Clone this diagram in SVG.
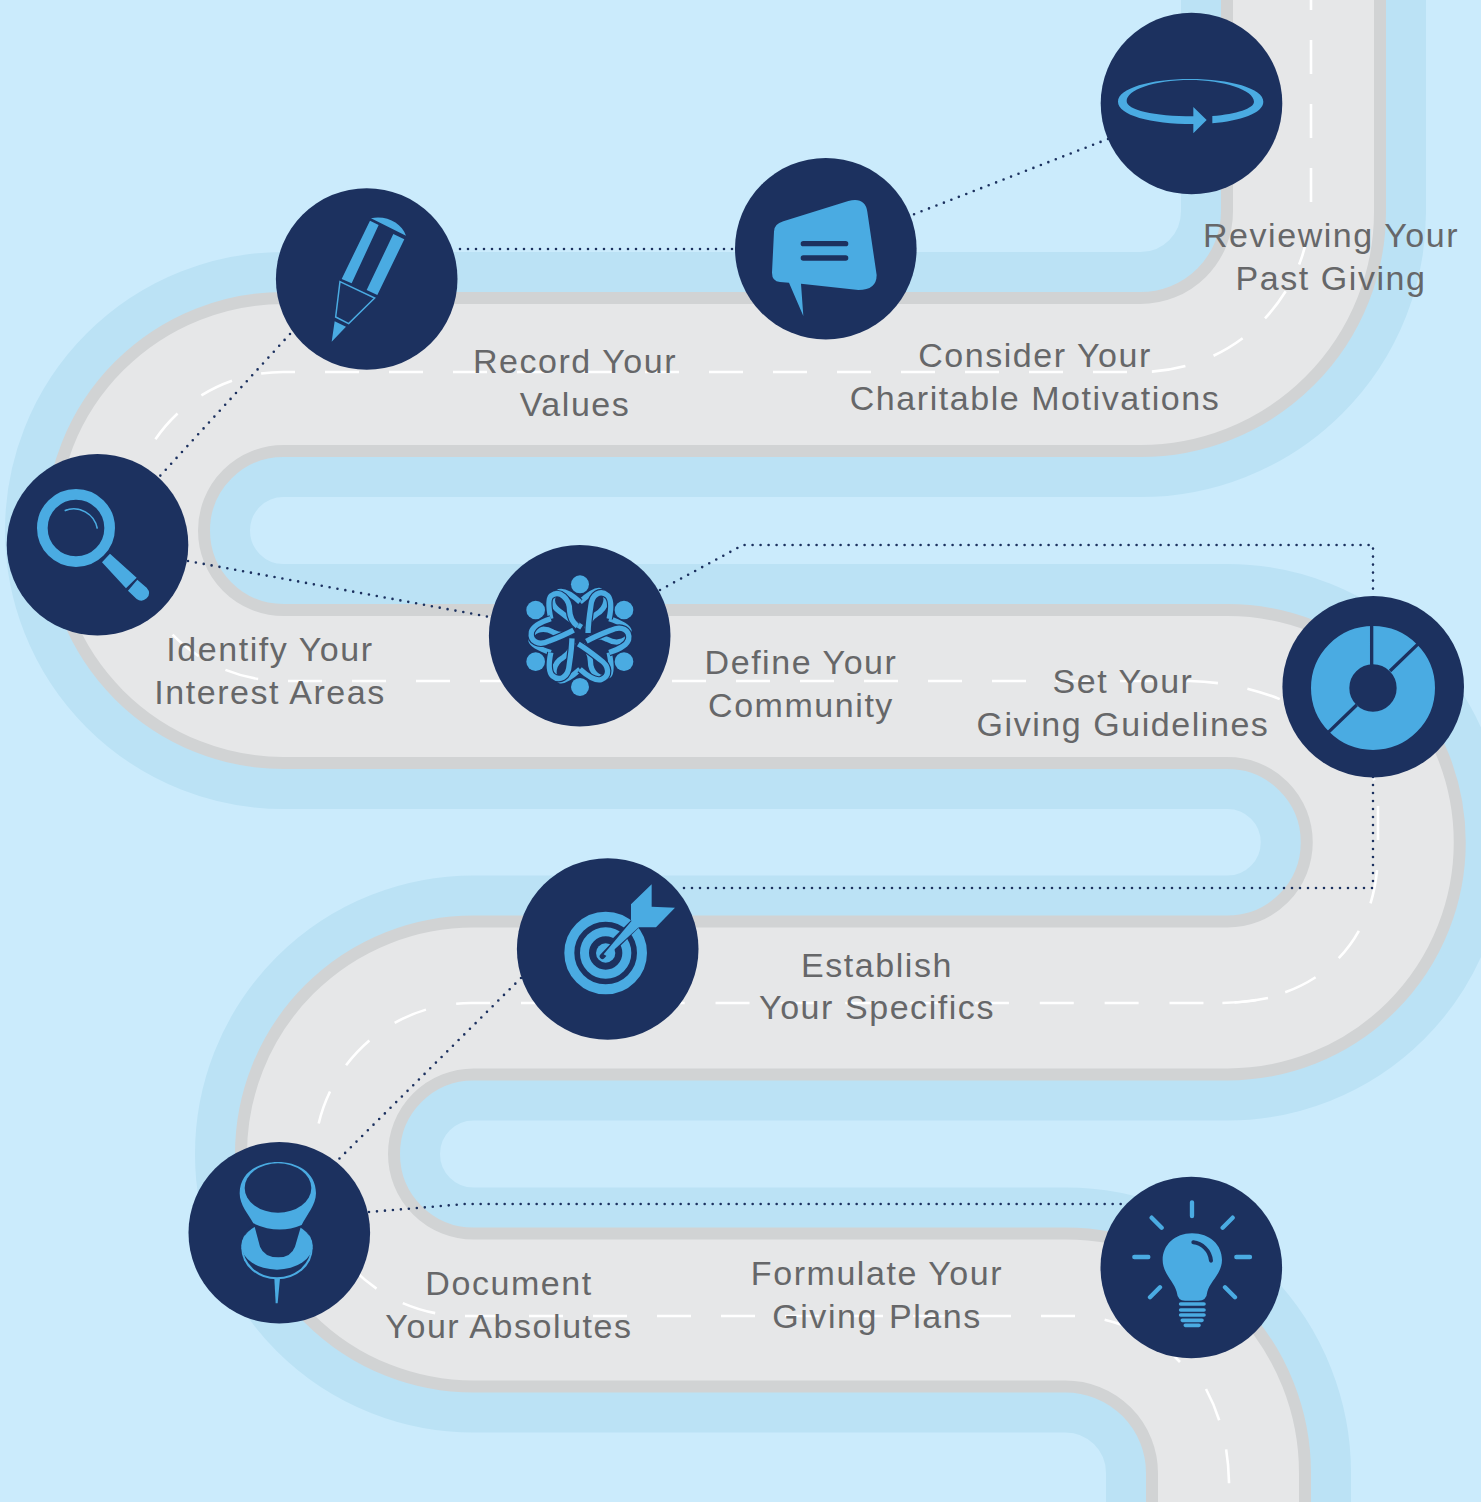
<svg xmlns="http://www.w3.org/2000/svg" xmlns:xlink="http://www.w3.org/1999/xlink" width="1481" height="1502" viewBox="0 0 1481 1502">
<style>
.rd{fill:none;stroke-linejoin:round}
.dash{fill:none;stroke:#fff;stroke-width:2.6;stroke-dasharray:34 30}
.disc{fill:#1c315f}
.l{fill:#4aabe2}
.ls{fill:none;stroke:#4aabe2;stroke-linecap:round}
.d{fill:#1c315f}
.ds{fill:none;stroke:#1c315f;stroke-linecap:round}
.dot{fill:none;stroke:#1c315f;stroke-width:2.6;stroke-linecap:round;stroke-dasharray:0 8}
text{font-family:"Liberation Sans",Arial,sans-serif;font-size:34px;letter-spacing:1.55px;fill:#666769;text-anchor:middle}
</style>
<defs>
<path id="road" d="M1303.5 -10V211A163 163 0 0 1 1140 374.5H283.5A156 156 0 0 0 283.5 686.5H1227.5A155.75 155.75 0 0 1 1227.5 998H473.5A156 156 0 0 0 473.5 1310H1065.5A163 163 0 0 1 1228.5 1473V1512"/>
<g id="arm">
<path d="M285 186C305 168 330 148 345 152C375 165 365 205 335 222C315 235 308 250 306 266" fill="none" stroke="#1c315f" stroke-width="23"/>
<path d="M285 186C305 168 330 148 345 152C375 165 365 205 335 222C315 235 308 250 306 266" fill="none" stroke="#4aabe2" stroke-width="16"/>
<path d="M285 186C265 168 240 150 222 155C195 165 195 195 225 215C250 235 270 250 290 262" fill="none" stroke="#1c315f" stroke-width="23"/>
<path d="M285 186C265 168 240 150 222 155C195 165 195 195 225 215C250 235 270 250 290 262" fill="none" stroke="#4aabe2" stroke-width="16"/>
</g>
</defs>
<rect width="1481" height="1502" fill="#cbebfc"/>
<g id="road-bands">
<use xlink:href="#road" href="#road" class="rd" stroke="#bbe2f5" stroke-width="245"/>
<use xlink:href="#road" href="#road" class="rd" stroke="#d1d3d4" stroke-width="165"/>
<use xlink:href="#road" href="#road" class="rd" stroke="#e6e7e8" stroke-width="141"/>
<g id="centre-line">
<path class="dash" stroke-dashoffset="14" d="M1311 -10V202A170 170 0 0 1 1141 372"/>
<path class="dash" d="M1127 372H283A154.5 154.5 0 0 0 128.5 526.5"/>
<path class="dash" stroke-dashoffset="34" d="M288 681H283A154.5 154.5 0 0 1 128.5 526.5"/>
<path class="dash" d="M288 681H1190C1290 683 1378 745 1378 800"/>
<path class="dash" d="M1378 806V850C1378 950 1310 1003 1220 1003"/>
<path class="dash" style="stroke-dasharray:34 30.85" d="M1268 998Q1245 1003 1220 1003H471A156.5 156.5 0 0 0 314.5 1159.5"/>
<path class="dash" stroke-dashoffset="34" d="M465 1316A156.5 156.5 0 0 1 308.5 1159.5"/>
<path class="dash" d="M465 1316H1085C1120 1321 1155 1335 1180 1362"/>
<path class="dash" d="M1206 1389Q1228 1430 1229 1482V1512"/>
</g>
</g>
<g id="connectors">
<path class="dot" d="M1108 139L912 215"/>
<path class="dot" d="M460 249H735"/>
<path class="dot" d="M290 334L160 476"/>
<path class="dot" d="M188 561L490 617"/>
<path class="dot" d="M660 590L743 545H1373V596"/>
<path class="dot" d="M1373 777V888H677"/>
<path class="dot" d="M521 978L338 1160"/>
<path class="dot" d="M369 1212L465 1204H1126"/>
</g>
<g id="node-reviewing">
<circle class="disc" cx="1191.5" cy="103.5" r="90.8"/>
<g transform="translate(1090 0) scale(.3333)"><path class="l" d="M367 348C440 342 492 325 492 305C492 270 400 240 300 240C190 240 110 270 110 303C110 330 190 349 310 349V321L350 360L310 400V372C180 372 84 345 84 305C84 265 180 237 300 237C420 237 520 265 520 305C520 340 450 362 367 370Z"/></g>
<text x="1331" y="247">Reviewing Your</text>
<text x="1331" y="290">Past Giving</text>
</g>
<g id="node-consider">
<circle class="disc" cx="825.8" cy="248.7" r="90.8"/>
<g transform="translate(730 150) scale(.3333)"><path class="l" d="M160 214L355 153Q405 140 412 185L440 375Q440 420 385 420L213 401L220 498L177 398L150 396Q126 394 126 368L132 245Q132 222 160 214Z"/><path class="ds" stroke-width="16" d="M220 281H347M220 324H347"/></g>
<text x="1035" y="367">Consider Your</text>
<text x="1035" y="410">Charitable Motivations</text>
</g>
<g id="node-record">
<circle class="disc" cx="366.7" cy="279" r="90.8"/>
<g transform="translate(270 180) scale(.3333)"><path class="l" d="M300 122L326 135L245 310L215 297ZM370 162L403 178L322 345L290 330ZM303 115C350 105 395 130 408 167ZM194 424L228 440L185 485Z"/><path d="M210 305L314 354L236 431L197 411Z" fill="none" stroke="#4aabe2" stroke-width="4.5"/></g>
<text x="575" y="373">Record Your</text>
<text x="575" y="416">Values</text>
</g>
<g id="node-identify">
<circle class="disc" cx="97.5" cy="544.7" r="90.8"/>
<g transform="translate(0 450) scale(.3333)"><circle cx="228" cy="234" r="101" fill="none" stroke="#4aabe2" stroke-width="32"/><path d="M194 182A72 72 0 0 1 292 236" fill="none" stroke="#4aabe2" stroke-width="5"/><path class="l" d="M306 337L330 311L410 383L378 415ZM412 389L440 413Q455 430 440 445Q425 458 410 447L384 422Z"/></g>
<text x="270" y="661">Identify Your</text>
<text x="270" y="704">Interest Areas</text>
</g>
<g id="node-define">
<circle class="disc" cx="579.7" cy="635.8" r="90.8"/>
<g transform="translate(485 540) scale(.3333)">
<use xlink:href="#arm" href="#arm"/>
<use xlink:href="#arm" href="#arm" transform="rotate(60 285 287)"/>
<use xlink:href="#arm" href="#arm" transform="rotate(120 285 287)"/>
<use xlink:href="#arm" href="#arm" transform="rotate(180 285 287)"/>
<use xlink:href="#arm" href="#arm" transform="rotate(240 285 287)"/>
<use xlink:href="#arm" href="#arm" transform="rotate(300 285 287)"/>
<circle class="l" cx="285" cy="133" r="27"/><circle class="l" cx="417" cy="210" r="28"/><circle class="l" cx="417" cy="365" r="28"/><circle class="l" cx="285" cy="441" r="27"/><circle class="l" cx="152" cy="365" r="28"/><circle class="l" cx="152" cy="210" r="28"/>
</g>
<text x="801" y="674">Define Your</text>
<text x="801" y="717">Community</text>
</g>
<g id="node-set">
<circle class="disc" cx="1373.2" cy="686.7" r="90.8"/>
<g transform="translate(1280 590) scale(.3333)"><circle cx="279" cy="294" r="128.5" fill="none" stroke="#4aabe2" stroke-width="115"/><path class="ds" style="stroke-linecap:butt" stroke-width="10" d="M275 230V100M330 243L416 160M230 345L144 428"/></g>
<text x="1123" y="693">Set Your</text>
<text x="1123" y="736">Giving Guidelines</text>
</g>
<g id="node-establish">
<circle class="disc" cx="607.7" cy="949" r="90.8"/>
<g transform="translate(515 855) scale(.3333)"><circle cx="272" cy="294" r="109" fill="none" stroke="#4aabe2" stroke-width="30"/><circle cx="272" cy="294" r="63.5" fill="none" stroke="#4aabe2" stroke-width="27"/><circle class="l" cx="272" cy="294" r="29"/><path class="ds" style="stroke-linecap:butt" stroke-width="32" d="M296 270L385 182"/><path class="ds" stroke-width="16" d="M262 304L300 264"/><path class="l" d="M266 298L352 195L372 216L276 304Z"/><path class="l" d="M348 148L410 88V155L480 158L423 217H368L348 196Z"/></g>
<text x="877" y="977">Establish</text>
<text x="877" y="1019">Your Specifics</text>
</g>
<g id="node-document">
<circle class="disc" cx="279.3" cy="1232.8" r="90.8"/>
<g transform="translate(185 1140) scale(.3333)"><ellipse class="l" cx="276" cy="325" rx="107" ry="93"/><ellipse class="d" cx="276" cy="318" rx="103" ry="94"/><ellipse class="l" cx="276" cy="317" rx="107" ry="72"/><path class="d" d="M205 245H352L330 320Q318 352 280 352Q238 352 225 320Z"/><path class="l" d="M164 160C164 95 225 66 278 66C335 66 393 95 393 160C393 195 365 225 350 255Q280 285 205 250C190 222 164 195 164 160Z"/><ellipse class="d" cx="279" cy="144" rx="100" ry="74"/><path class="l" d="M268 415H285L278 490H272Z"/></g>
<text x="509" y="1295">Document</text>
<text x="509" y="1338">Your Absolutes</text>
</g>
<g id="node-formulate">
<circle class="disc" cx="1191.3" cy="1267.5" r="90.8"/>
<g transform="translate(1095 1170) scale(.3333)"><path class="l" d="M291 190C345 190 381 225 381 270C381 310 345 335 337 365Q335 392 310 392H270Q248 392 245 365C237 335 203 310 203 270C203 225 240 190 291 190Z"/><path class="ds" stroke-width="12" d="M295 217C320 220 345 240 348 272"/><path class="ls" stroke-width="11" d="M257 402H327M257 420H327M257 435H327M262 451H321M271 466H312"/><path class="ls" stroke-width="13" d="M291 97V138M170 143L200 173M413 143L383 173M118 261H160M424 261H465M195 352L165 382M390 352L420 382"/></g>
<text x="877" y="1285">Formulate Your</text>
<text x="877" y="1328">Giving Plans</text>
</g>
</svg>
